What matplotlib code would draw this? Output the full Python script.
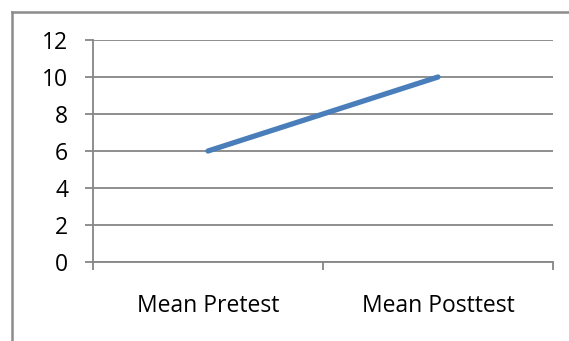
import matplotlib
matplotlib.use("Agg")
import matplotlib.pyplot as plt
from matplotlib.lines import Line2D

categories = ["Mean Pretest", "Mean Posttest"]
values = [6, 10]
yticks = [0, 2, 4, 6, 8, 10, 12]

W, H = 569, 341
fig = plt.figure(figsize=(W / 100, H / 100), dpi=100)
fig.patch.set_facecolor("white")

# outer chart border (top and left visible)
fig.add_artist(Line2D([12 / W, 1.0], [1 - 11.5 / H, 1 - 11.5 / H], color="#8c8c8c", lw=1.8))
fig.add_artist(Line2D([12 / W, 12 / W], [0.0, 1 - 11.5 / H], color="#8c8c8c", lw=1.8))

ax = fig.add_axes([93 / W, 1 - 262 / H, (553 - 93) / W, (262 - 40) / H])
ax.set_facecolor("none")

xs = [i + 0.5 for i in range(len(categories))]
ax.plot(xs, values, color="#4a7ebb", lw=3.8, solid_capstyle="round", zorder=3)

ax.set_xlim(0, len(categories))
ax.set_ylim(0, 12)
ax.set_yticks(yticks)
ax.set_yticklabels([str(v) for v in yticks])
ax.set_xticks(xs)
ax.set_xticklabels(categories)
ax.set_xticks(range(len(categories) + 1), minor=True)

gc = "#868686"
ax.grid(axis="y", color=gc, lw=1.3, zorder=0)
for s in ["top", "right"]:
    ax.spines[s].set_visible(False)
for s in ["left", "bottom"]:
    ax.spines[s].set_color(gc)
    ax.spines[s].set_linewidth(1.3)

font = "Open Sans"
ax.tick_params(axis="y", length=5.8, width=1.3, color=gc, pad=12,
               labelsize=16.5, labelcolor="black")
ax.tick_params(axis="x", which="major", length=0, pad=23, labelsize=16.5, labelcolor="black")
ax.tick_params(axis="x", which="minor", length=5.8, width=1.3, color=gc, direction="out")
for lab in ax.get_xticklabels() + ax.get_yticklabels():
    lab.set_fontfamily(font)

fig.savefig("out.png", dpi=100, facecolor="white")
